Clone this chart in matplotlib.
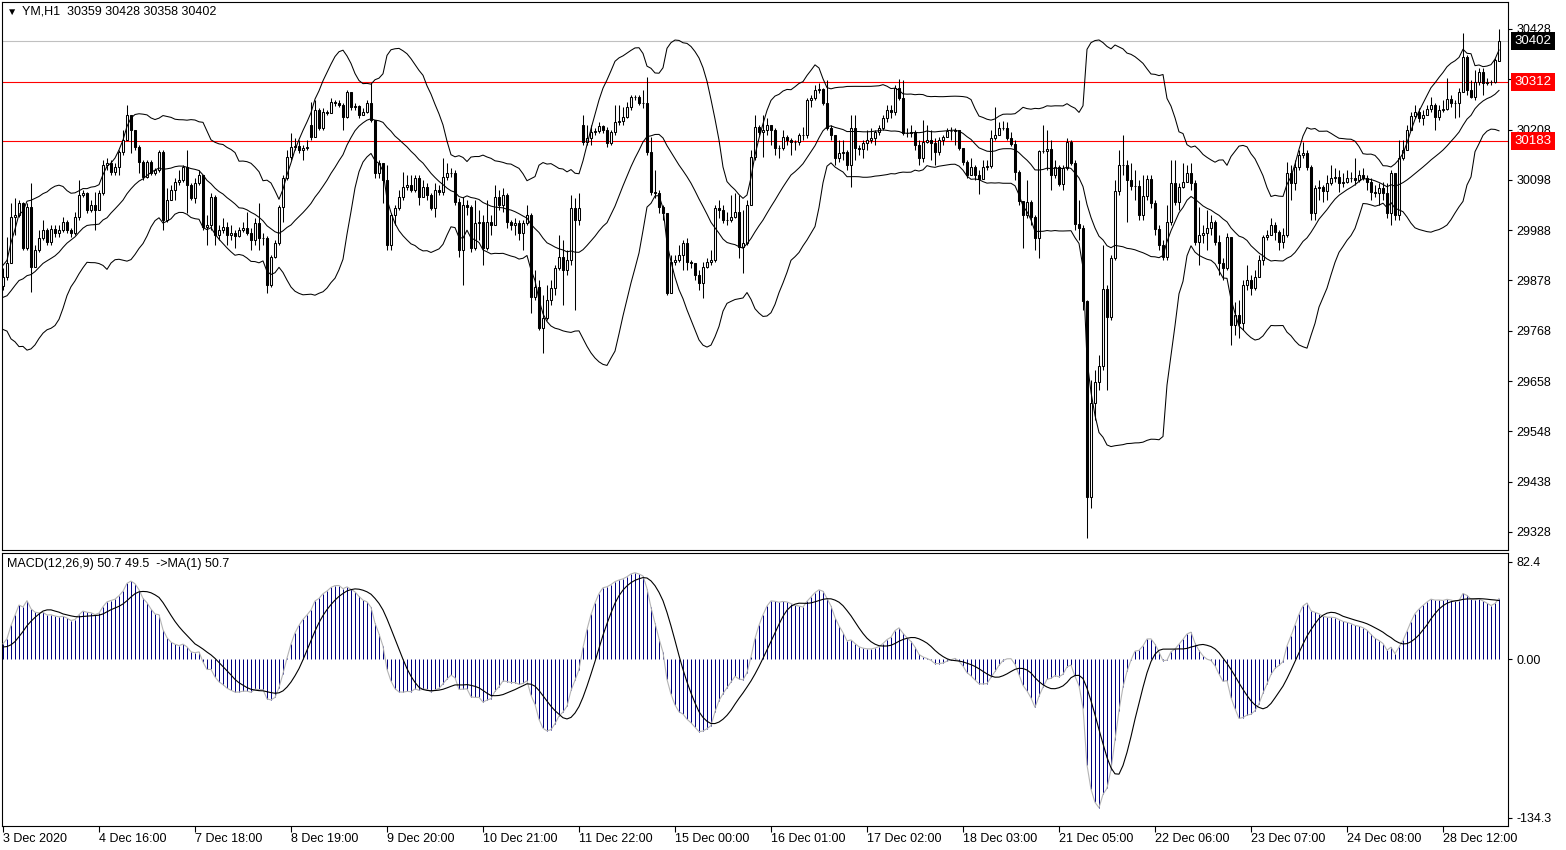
import numpy as np
import pandas as pd
import matplotlib
matplotlib.use('Agg')
import matplotlib.pyplot as plt
import matplotlib.transforms as mtransforms

plt.rcParams['font.family'] = ['Liberation Sans', 'DejaVu Sans']

#**********************************************
# YM, H1 - hourly bars
# closes; open = previous close except where a gap is seen

# 60 hours before the first visible bar (only used to warm up BB / MACD)
pre_close = [29700, 29712, 29695, 29720, 29735, 29728, 29710, 29725, 29748, 29760,
             29742, 29738, 29755, 29770, 29762, 29748, 29765, 29790, 29778, 29770,
             29785, 29800, 29788, 29775, 29795, 29812, 29805, 29790, 29808, 29825,
             29815, 29800, 29790, 29812, 29830, 29842, 29825, 29810, 29835, 29850,
             29880, 29845, 29800, 29790, 29830, 29875, 29900, 29860, 29815, 29790,
             29810, 29850, 29885, 29870, 29830, 29795, 29800, 29845, 29880, 29866]

close = [29886, 29916, 30017, 30021, 30047, 29949, 30039, 29907, 29945, 29971,
         29988, 29962, 29991, 29982, 29988, 30006, 29988, 29982, 30017, 30065,
         30069, 30032, 30043, 30032, 30069, 30130, 30135, 30115, 30126, 30159,
         30185, 30240, 30207, 30170, 30137, 30104, 30137, 30113, 30119, 30159,
         30010, 30054, 30075, 30093, 30097, 30126, 30086, 30058, 30091, 30108,
         29994, 29999, 30061, 29978, 29988, 29996, 29978, 29982, 29976, 29988,
         29993, 29982, 29966, 30004, 29971, 29971, 29868, 29929, 29960, 30039,
         30102, 30148, 30170, 30172, 30163, 30167, 30170, 30191, 30251, 30211,
         30246, 30244, 30268, 30266, 30261, 30235, 30290, 30257, 30259, 30240,
         30246, 30266, 30229, 30113, 30135, 30097, 29955, 30021, 30036, 30061,
         30082, 30087, 30075, 30102, 30061, 30082, 30065, 30036, 30075, 30071,
         30104, 30113, 30113, 30050, 29945, 30043, 30039, 29949, 30004, 30006,
         29949, 30006, 29999, 30061, 30043, 30065, 30006, 29999, 30004, 29982,
         30004, 30021, 29842, 29863, 29774, 29796, 29835, 29861, 29905, 29929,
         29901, 29923, 30036, 30010, 30036, 30180, 30189, 30202, 30205, 30216,
         30207, 30178, 30202, 30224, 30226, 30235, 30257, 30279, 30279, 30266,
         30266, 30159, 30071, 30069, 30039, 30025, 29851, 29918, 29923, 29934,
         29960, 29918, 29916, 29890, 29872, 29907, 29918, 29923, 30036, 30032,
         30010, 30010, 30017, 30028, 29951, 29960, 30043, 30148, 30213, 30202,
         30207, 30219, 30207, 30167, 30167, 30191, 30185, 30180, 30180, 30196,
         30196, 30272, 30277, 30295, 30297, 30266, 30211, 30196, 30145, 30156,
         30159, 30130, 30211, 30167, 30165, 30178, 30185, 30189, 30202, 30211,
         30233, 30251, 30246, 30299, 30277, 30200, 30200, 30202, 30174, 30145,
         30180, 30185, 30178, 30159, 30185, 30191, 30205, 30205, 30207, 30167,
         30137, 30108, 30126, 30108, 30099, 30126, 30128, 30189, 30196, 30211,
         30211, 30189, 30176, 30115, 30052, 30021, 30050, 30017, 29971, 30161,
         30161, 30165, 30108, 30126, 30089, 30124, 30180, 30135, 30001, 29993,
         29833, 29404, 29610, 29656, 29691, 29859, 29798, 29928, 30074, 30130,
         30130, 30097, 30085, 30085, 30021, 30063, 30100, 30047, 29991, 29955,
         29929, 30006, 30091, 30050, 30082, 30093, 30113, 30091, 29962, 29978,
         29982, 29993, 30006, 29962, 29916, 29905, 29973, 29781, 29802, 29785,
         29868, 29879, 29861, 29886, 29923, 29973, 29978, 29999, 29984, 29962,
         29978, 30113, 30091, 30126, 30152, 30156, 30126, 30025, 30080, 30082,
         30073, 30091, 30102, 30104, 30091, 30093, 30102, 30102, 30097, 30108,
         30102, 30093, 30071, 30069, 30080, 30069, 30025, 30113, 30021, 30145,
         30163, 30207, 30237, 30246, 30233, 30240, 30253, 30261, 30235, 30251,
         30253, 30275, 30266, 30266, 30290, 30367, 30295, 30279, 30312, 30334,
         30310, 30312, 30312, 30360, 30402]

high = [29905, 29973, 30047, 30058, 30054, 30050, 30047, 30091, 29955, 29988,
        30010, 29993, 29999, 29999, 29999, 30017, 30010, 29993, 30028, 30097,
        30075, 30071, 30054, 30071, 30075, 30141, 30145, 30141, 30135, 30163,
        30207, 30261, 30229, 30207, 30174, 30141, 30141, 30141, 30124, 30163,
        30163, 30080, 30086, 30102, 30119, 30130, 30163, 30091, 30102, 30119,
        30054, 30021, 30069, 30065, 29999, 30015, 30006, 29999, 29988, 29994,
        30006, 30028, 29993, 30015, 30047, 29982, 29976, 29933, 29966, 30043,
        30108, 30163, 30200, 30189, 30185, 30174, 30185, 30268, 30272, 30255,
        30255, 30251, 30277, 30272, 30272, 30266, 30295, 30290, 30266, 30261,
        30255, 30272, 30310, 30222, 30141, 30135, 30130, 30025, 30043, 30075,
        30115, 30108, 30108, 30108, 30108, 30097, 30091, 30069, 30091, 30087,
        30145, 30135, 30124, 30119, 30058, 30061, 30054, 30043, 30054, 30032,
        30021, 30054, 30021, 30087, 30075, 30080, 30069, 30010, 30015, 30010,
        30010, 30043, 30025, 29901, 29879, 29846, 29868, 29879, 29912, 29978,
        29966, 29945, 30065, 30058, 30069, 30240, 30219, 30219, 30211, 30224,
        30219, 30213, 30207, 30261, 30261, 30257, 30268, 30284, 30284, 30284,
        30295, 30323, 30191, 30119, 30075, 30043, 30025, 29934, 29934, 29955,
        29966, 29971, 29923, 29916, 29901, 29918, 29927, 29945, 30043, 30054,
        30043, 30028, 30065, 30069, 30065, 30032, 30054, 30163, 30240, 30219,
        30240, 30233, 30219, 30211, 30174, 30207, 30196, 30189, 30185, 30200,
        30213, 30277, 30284, 30306, 30310, 30299, 30316, 30219, 30196, 30185,
        30185, 30163, 30240, 30240, 30174, 30185, 30207, 30211, 30207, 30219,
        30240, 30261, 30261, 30306, 30319, 30316, 30211, 30219, 30207, 30185,
        30229, 30219, 30207, 30189, 30191, 30196, 30211, 30213, 30211, 30207,
        30167, 30141, 30145, 30130, 30119, 30141, 30141, 30207, 30257, 30224,
        30227, 30224, 30202, 30185, 30119, 30043, 30097, 30054, 30021, 30163,
        30219, 30207, 30185, 30141, 30130, 30130, 30189, 30185, 30141, 30054,
        29999, 29835, 29660, 29682, 29715, 29955, 29868, 29934, 30097, 30163,
        30196, 30141, 30135, 30119, 30097, 30108, 30108, 30108, 30054, 29999,
        29966, 30043, 30141, 30141, 30091, 30135, 30130, 30135, 30097, 30039,
        29999, 30032, 30021, 30010, 29978, 29927, 29982, 29973, 29831, 29835,
        29879, 29912, 29890, 29901, 29934, 29978, 29988, 30015, 30006, 29988,
        29993, 30137, 30130, 30141, 30163, 30180, 30163, 30130, 30087, 30097,
        30087, 30108, 30130, 30124, 30119, 30113, 30119, 30115, 30145, 30119,
        30124, 30108, 30102, 30087, 30091, 30093, 30091, 30119, 30113, 30185,
        30185, 30219, 30246, 30261, 30255, 30251, 30261, 30279, 30266, 30261,
        30272, 30321, 30284, 30272, 30299, 30419, 30371, 30316, 30338, 30343,
        30343, 30321, 30316, 30365, 30428]

low = [29857, 29879, 29938, 29977, 30017, 29945, 29945, 29853, 29929, 29940,
       29966, 29955, 29955, 29973, 29973, 29984, 29982, 29973, 29977, 30010,
       30060, 30025, 30028, 29988, 30032, 30065, 30119, 30108, 30108, 30108,
       30152, 30219, 30157, 30163, 30113, 30097, 30102, 30108, 30108, 30115,
       29988, 30006, 30054, 30054, 30086, 30093, 30025, 30054, 30047, 30086,
       29988, 29955, 29988, 29955, 29966, 29982, 29955, 29966, 29949, 29973,
       29984, 29977, 29945, 29955, 29945, 29955, 29851, 29864, 29927, 29955,
       30006, 30097, 30141, 30163, 30157, 30141, 30163, 30185, 30191, 30207,
       30207, 30240, 30244, 30259, 30257, 30207, 30233, 30251, 30251, 30233,
       30240, 30244, 30224, 30102, 30102, 30047, 29945, 29945, 29999, 30032,
       30054, 30075, 30071, 30071, 30043, 30061, 30054, 30032, 30017, 30065,
       30065, 30097, 30104, 30043, 29929, 29868, 30021, 29940, 29945, 29966,
       29912, 29945, 29978, 30028, 30032, 30028, 29993, 29988, 29978, 29966,
       29945, 29999, 29807, 29835, 29770, 29719, 29792, 29824, 29846, 29901,
       29824, 29890, 29912, 29813, 29999, 30174, 30174, 30174, 30196, 30200,
       30200, 30170, 30174, 30196, 30219, 30219, 30233, 30251, 30272, 30261,
       30255, 30152, 30065, 30058, 30025, 30010, 29846, 29851, 29912, 29918,
       29901, 29901, 29905, 29879, 29857, 29840, 29905, 29912, 29918, 30015,
       30004, 29999, 30006, 30015, 29927, 29894, 29955, 30043, 30141, 30196,
       30148, 30196, 30174, 30152, 30145, 30163, 30174, 30152, 30163, 30174,
       30185, 30189, 30257, 30272, 30288, 30261, 30207, 30185, 30130, 30137,
       30141, 30119, 30082, 30141, 30152, 30145, 30163, 30178, 30174, 30196,
       30207, 30224, 30233, 30240, 30272, 30196, 30191, 30191, 30163, 30130,
       30137, 30178, 30141, 30130, 30152, 30174, 30191, 30185, 30174, 30163,
       30130, 30102, 30108, 30097, 30067, 30104, 30119, 30124, 30185, 30196,
       30207, 30185, 30172, 30097, 30043, 29949, 30015, 29999, 29945, 29927,
       30157, 30119, 30075, 30102, 30085, 30075, 30119, 30130, 29988, 29966,
       29813, 29315, 29380, 29573, 29639, 29682, 29639, 29792, 29923, 30065,
       30108, 30006, 30075, 30054, 30010, 30010, 30054, 30036, 29978, 29945,
       29923, 29923, 29999, 30043, 30032, 30080, 30097, 30075, 29955, 29912,
       29960, 29945, 29978, 29955, 29890, 29879, 29901, 29737, 29759, 29752,
       29770, 29857, 29846, 29857, 29901, 29912, 29966, 29978, 29966, 29945,
       29949, 29973, 30054, 30075, 30119, 30145, 30119, 30010, 30010, 30054,
       30050, 30054, 30087, 30093, 30071, 30082, 30091, 30093, 30087, 30093,
       30097, 30075, 30054, 30061, 30043, 30054, 30015, 29999, 30010, 30010,
       30141, 30163, 30207, 30233, 30224, 30219, 30246, 30246, 30207, 30229,
       30246, 30251, 30257, 30233, 30235, 30290, 30284, 30277, 30272, 30305,
       30284, 30305, 30305, 30310, 30358]

# bars whose open is not the previous close (session gaps)
gap_open = {77: 30218, 145: 30218, 374: 30359}

date_labels = ['3 Dec 2020', '4 Dec 16:00', '7 Dec 18:00', '8 Dec 19:00', '9 Dec 20:00',
               '10 Dec 21:00', '11 Dec 22:00', '15 Dec 00:00', '16 Dec 01:00', '17 Dec 02:00',
               '18 Dec 03:00', '21 Dec 05:00', '22 Dec 06:00', '23 Dec 07:00', '24 Dec 08:00',
               '28 Dec 12:00']
label_step = 24

price_ticks = [29328, 29438, 29548, 29658, 29768, 29878, 29988, 30098, 30208, 30318, 30428]
level_lines = [30312, 30183]
last_price = 30402
macd_ticks = [82.4, 0.0, -134.3]

#**********************************************
close = np.array(close, dtype=float)
high = np.array(high, dtype=float)
low = np.array(low, dtype=float)
n = len(close)
x = np.arange(n)

open_ = np.r_[pre_close[-1], close[:-1]]
for i, v in gap_open.items():
    open_[i] = v
high = np.maximum(high, np.maximum(open_, close))
low = np.minimum(low, np.minimum(open_, close))

# indicators: Bollinger(20,2) and MACD(12,26,9)
s = pd.Series(list(pre_close) + list(close))
k = len(pre_close)
mid = s.rolling(20).mean()
sd = s.rolling(20).std(ddof=0)
bb_up = (mid + 2 * sd).values[k:]
bb_mid = mid.values[k:]
bb_lo = (mid - 2 * sd).values[k:]
macd_full = s.ewm(span=12, adjust=False).mean() - s.ewm(span=26, adjust=False).mean()
signal = macd_full.rolling(9).mean().values[k:]
macd = macd_full.values[k:]

W, H = 1566, 850
fig = plt.figure(figsize=(W / 100, H / 100), dpi=100)
ax = fig.add_axes([2 / W, 300 / H, 1506 / W, 548 / H])
ax2 = fig.add_axes([2 / W, 24 / H, 1506 / W, 273 / H])

xlim = (-0.25, 376.25)

# ---- price window
ax.axhline(last_price, color='#c0c0c0', lw=0.8, zorder=1)
for lv in level_lines:
    ax.axhline(lv, color='red', lw=0.8, zorder=1)

up = close >= open_
ax.vlines(x, low, high, color='black', lw=0.75, zorder=2)
ax.bar(x[up], (close - open_)[up], bottom=open_[up], width=0.5,
       facecolor='white', edgecolor='black', linewidth=0.75, zorder=3)
ax.bar(x[~up], (open_ - close)[~up], bottom=close[~up], width=0.5,
       facecolor='black', edgecolor='black', linewidth=0.75, zorder=3)

for band in (bb_up, bb_mid, bb_lo):
    ax.plot(x, band, color='black', lw=0.75, zorder=4)

ax.set_xlim(*xlim)
ax.set_ylim(29288.6, 30487.0)
ax.set_xticks([])
ax.yaxis.tick_right()
ax.set_yticks(price_ticks)
ax.set_yticklabels([str(p) for p in price_ticks])
ax.tick_params(axis='y', direction='out', length=3, width=0.8, labelsize=9, pad=3)

tr = mtransforms.blended_transform_factory(ax.transAxes, ax.transData)
ax.text(1.0045, last_price, str(last_price), transform=tr, ha='left', va='center',
        fontsize=9.5, color='white',
        bbox=dict(boxstyle='square,pad=0.25', fc='black', ec='none'), zorder=10)
for lv in level_lines:
    ax.text(1.0045, lv, str(lv), transform=tr, ha='left', va='center',
            fontsize=9.5, color='white',
            bbox=dict(boxstyle='square,pad=0.25', fc='red', ec='none'), zorder=10)

# ---- MACD window
ax2.vlines(x, 0, macd, color='navy', lw=0.72, zorder=2)
ax2.plot(x, macd, color='#b4b4b4', lw=0.8, zorder=3)
ax2.plot(x, signal, color='black', lw=0.8, zorder=4)
ax2.set_xlim(*xlim)
ax2.set_ylim(-141.1, 90.0)
ax2.yaxis.tick_right()
ax2.set_yticks(macd_ticks)
ax2.set_yticklabels(['82.4', '0.00', '-134.3'])
ax2.tick_params(axis='y', direction='out', length=3, width=0.8, labelsize=9, pad=3)
ax2.set_xticks(np.arange(len(date_labels)) * label_step)
ax2.set_xticklabels(date_labels)
ax2.tick_params(axis='x', direction='out', length=4, width=0.8, labelsize=9, pad=1)
for lab in ax2.get_xticklabels():
    lab.set_ha('left')

for a in (ax, ax2):
    for sp in a.spines.values():
        sp.set_linewidth(0.8)
        sp.set_color('black')

fig.text(7 / W, 1 - 12 / H, '\u25bc', fontsize=7.5, va='center', ha='left')
fig.text(22 / W, 1 - 12 / H, 'YM,H1  30359 30428 30358 30402', fontsize=9, va='center', ha='left')
fig.text(7 / W, 1 - 564 / H, 'MACD(12,26,9) 50.7 49.5  ->MA(1) 50.7', fontsize=9,
         va='center', ha='left')

fig.savefig('out.png', dpi=100)
